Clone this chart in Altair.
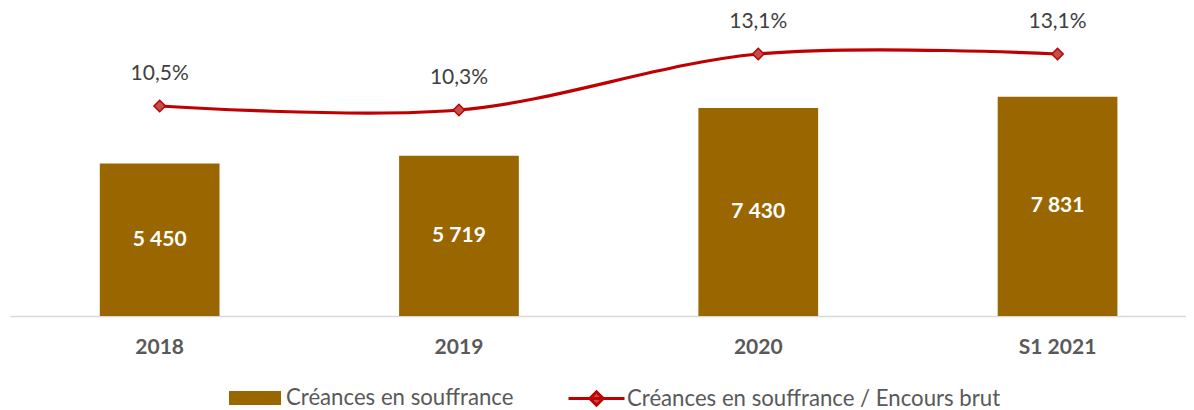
import altair as alt
import pandas as pd

FONT = "Lato"

categories = ["2018", "2019", "2020", "S1 2021"]
creances = [5450, 5719, 7430, 7831]
ratio = [10.5, 10.3, 13.1, 13.1]
bar_labels = ["5 450", "5 719", "7 430", "7 831"]
pct_labels = ["10,5%", "10,3%", "13,1%", "13,1%"]
series = ["Créances en souffrance", "Créances en souffrance / Encours brut"]

df = pd.DataFrame({
    "cat": categories,
    "val": creances,
    "pct": ratio,
    "blab": bar_labels,
    "plab": pct_labels,
    "s1": series[0],
    "s2": series[1],
})

x = alt.X(
    "cat:N",
    sort=categories,
    scale=alt.Scale(paddingInner=0.6, paddingOuter=0.2646, align=0.567),
    axis=alt.Axis(
        title=None, labelAngle=0, ticks=False, grid=False, domainColor="#d9d9d9",
        domainWidth=1.5, labelFont=FONT, labelFontSize=21, labelFontWeight="bold",
        labelColor="#595959", labelPadding=20,
    ),
)

ybar_scale = alt.Scale(domain=[0, 10000], nice=False, zero=True)
yline_scale = alt.Scale(domain=[0, 14], nice=False, zero=True)

bars = alt.Chart(df).mark_bar().encode(
    x=x,
    y=alt.Y("val:Q", scale=ybar_scale, axis=None),
    color=alt.Color(
        "s1:N",
        scale=alt.Scale(domain=[series[0]], range=["#9A6600"]),
        legend=alt.Legend(
            title=None, orient="none", legendX=219, legendY=336,
            symbolType="M-1,-0.27H1V0.27H-1Z", symbolSize=2704,
            symbolStrokeWidth=0, labelFont=FONT, labelFontSize=22.2,
            labelColor="#595959", labelOffset=5, labelLimit=600,
        ),
    ),
)

bar_text = alt.Chart(df).transform_calculate(mid="datum.val / 2").mark_text(
    font=FONT, fontSize=21, fontWeight="bold", color="white", baseline="middle"
).encode(
    x=x,
    y=alt.Y("mid:Q", scale=ybar_scale, axis=None),
    text="blab:N",
)

line_legend = alt.Legend(
    title=None, orient="none", legendX=557, legendY=333,
    symbolType="M-1,0H1M-0.24,0L0,-0.24L0.24,0L0,0.24Z", symbolSize=3136,
    symbolStrokeWidth=3, labelFont=FONT, labelFontSize=22.2,
    labelColor="#595959", labelOffset=1, labelLimit=600,
)

line = alt.Chart(df).mark_line(interpolate="cardinal", strokeWidth=3.2).encode(
    x=x,
    y=alt.Y("pct:Q", scale=yline_scale, axis=None),
    stroke=alt.Stroke("s2:N", scale=alt.Scale(domain=[series[1]], range=["#C00000"]), legend=line_legend),
)

points = alt.Chart(df).mark_point(
    shape="diamond", filled=True, size=130, stroke="#C00000", strokeWidth=1.5, opacity=1
).encode(
    x=x,
    y=alt.Y("pct:Q", scale=yline_scale, axis=None),
    fill=alt.Fill("s2:N", scale=alt.Scale(domain=[series[1]], range=["#C0504D"]), legend=line_legend),
)

pct_text = alt.Chart(df).mark_text(
    font=FONT, fontSize=21, color="#404040", baseline="middle", dy=-32
).encode(
    x=x,
    y=alt.Y("pct:Q", scale=yline_scale, axis=None),
    text="plab:N",
)

chart = alt.layer(
    alt.layer(bars, bar_text),
    alt.layer(line, points, pct_text),
).resolve_scale(y="independent").properties(
    width=1176, height=280,
    background="white",
    autosize=alt.AutoSizeParams(type="none"),
    padding={"left": 2, "top": 28, "right": 0, "bottom": 94},
).configure_view(stroke=None, strokeWidth=0)

chart.save("out.html", embed_options={"renderer": "svg", "actions": False})
